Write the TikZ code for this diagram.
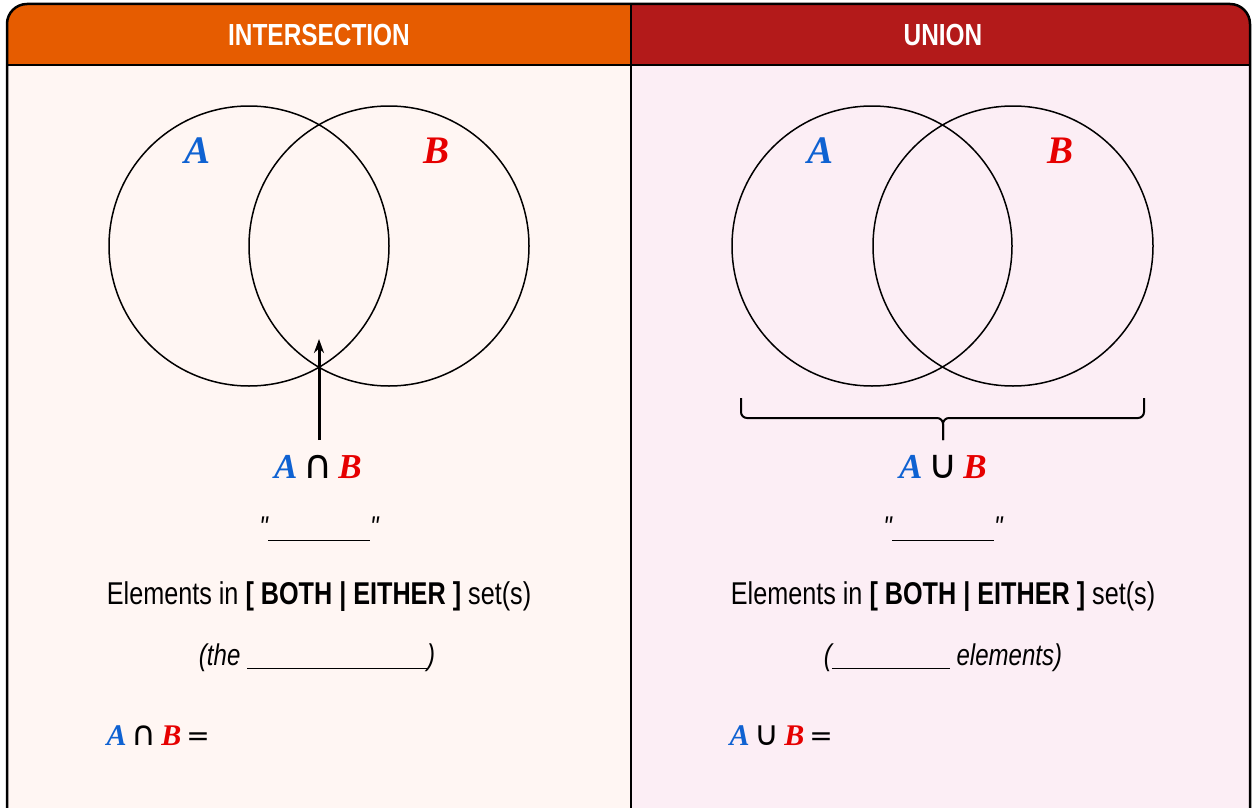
\documentclass[tikz,border=0pt]{standalone}
\usepackage{fontspec}
\setmainfont{Liberation Sans}
\newfontfamily\condfont[FakeStretch=0.8]{Liberation Sans}
\newfontfamily\letterfont{Liberation Serif}
\newfontfamily\opsfont{DejaVu Sans}
\usepackage{tikz}
\usetikzlibrary{positioning, arrows.meta}
\usepackage{xcolor}
\definecolor{interorange}{HTML}{E65C00}
\definecolor{unionred}{HTML}{B31A1A}
\definecolor{interbg}{HTML}{FFF6F3}
\definecolor{unionbg}{HTML}{FCEEF5}
\definecolor{setblue}{HTML}{0F62D2}
\definecolor{setred}{HTML}{E60000}
\tikzset{
    setcircle/.style={
        circle,
        draw=black,
        line width=1.5pt,
        minimum size=280pt,
        inner sep=0pt
    },
    headtext/.style={
        text=white,
        anchor=base,
        font=\condfont\bfseries\fontsize{30.5}{34}\selectfont
    },
    bodytext/.style={
        anchor=base,
        font=\condfont\fontsize{31.5}{36}\selectfont
    },
    notetext/.style={
        anchor=base,
        font=\condfont\itshape\fontsize{30}{34}\selectfont
    },
    setlabel/.style={
        anchor=base,
        font=\letterfont\bfseries\itshape\fontsize{35}{40}\selectfont
    },
    vennlabel/.style={
        anchor=base,
        font=\letterfont\bfseries\itshape\fontsize{39}{44}\selectfont
    },
    eqlabel/.style={
        anchor=base west,
        font=\letterfont\bfseries\itshape\fontsize{30}{34}\selectfont
    },
    rule/.style={
        line width=2pt
    }
}
\newcommand{\letA}{\textcolor{setblue}{A}}
\newcommand{\letB}{\textcolor{setred}{B}}
\newcommand{\blankline}[1]{\rule[-4pt]{#1}{1.4pt}}
\newcommand{\opsign}[2]{{\opsfont\upshape\mdseries\fontsize{#1}{#1}\selectfont #2}}

\begin{document}
\begin{tikzpicture}[x=1pt, y=-1pt]

      \useasboundingbox (0,0) rectangle (1253,808);

      % panels
      \begin{scope}
        \clip[rounded corners=20pt] (7,4) rectangle (1250,830);
        \fill[interorange] (7,4) rectangle (631,65);
        \fill[unionred] (631,4) rectangle (1250,65);
        \fill[interbg] (7,65) rectangle (631,830);
        \fill[unionbg] (631,65) rectangle (1250,830);
      \end{scope}
      \draw[rule] (7,65) -- (1250,65);
      \draw[rule] (631,4) -- (631,830);
      \draw[line width=2.5pt, rounded corners=20pt] (7,4) rectangle (1250,830);

      \node[headtext] (interhead) at (319,46) {INTERSECTION};
      \node[headtext] (unionhead) at (943,46) {UNION};

      % intersection side
      \node[setcircle] (interA) at (249,246) {};
      \node[setcircle] (interB) at (389,246) {};
      \node[vennlabel, text=setblue] (interAlabel) at (198,163) {A};
      \node[vennlabel, text=setred] (interBlabel) at (437,163) {B};

      \coordinate (arrowfoot) at (319,440);
      \coordinate (arrowtip) at (319,339);
      \draw[line width=3pt, -{Stealth[length=14pt, width=10pt]}] (arrowfoot) -- (arrowtip);

      \node[setlabel] (intername) at (318,478) {\letA\,\opsign{40}{∩}\,\letB};
      \node[notetext] (interquote) at (319,537) {"\blankline{102pt}"};
      \node[bodytext] (interrule) at (319,604) {Elements in \textbf{[ BOTH | EITHER ]} set(s)};
      \node[notetext] (internote) at (317,665) {(the \blankline{180pt})};
      \node[eqlabel] (intereq) at (103,745) {\letA\,\opsign{34}{∩}\,\letB\,\opsign{28}{=}};

      % union side
      \node[setcircle] (unionA) at (872,246) {};
      \node[setcircle] (unionB) at (1013,246) {};
      \node[vennlabel, text=setblue] (unionAlabel) at (820,163) {A};
      \node[vennlabel, text=setred] (unionBlabel) at (1060,163) {B};

      \coordinate (braceL) at (741,398);
      \coordinate (braceR) at (1144,398);
      \coordinate (bracemid) at (943,418);
      \coordinate (bracetip) at (943,440);
      \draw[line width=2pt, rounded corners=6pt] (braceL) -- (741,418) -- (bracemid) -- (bracetip);
      \draw[line width=2pt, rounded corners=6pt] (braceR) -- (1144,418) -- (bracemid) -- (bracetip);

      \node[setlabel] (unionname) at (943,478) {\letA\,\opsign{40}{∪}\,\letB};
      \node[notetext] (unionquote) at (943,537) {"\blankline{102pt}"};
      \node[bodytext] (unionrule) at (943,604) {Elements in \textbf{[ BOTH | EITHER ]} set(s)};
      \node[notetext] (unionnote) at (943,665) {(\blankline{118pt} elements)};
      \node[eqlabel] (unioneq) at (726,745) {\letA\,\opsign{34}{∪}\,\letB\,\opsign{28}{=}};

    \end{tikzpicture}
\end{document}
